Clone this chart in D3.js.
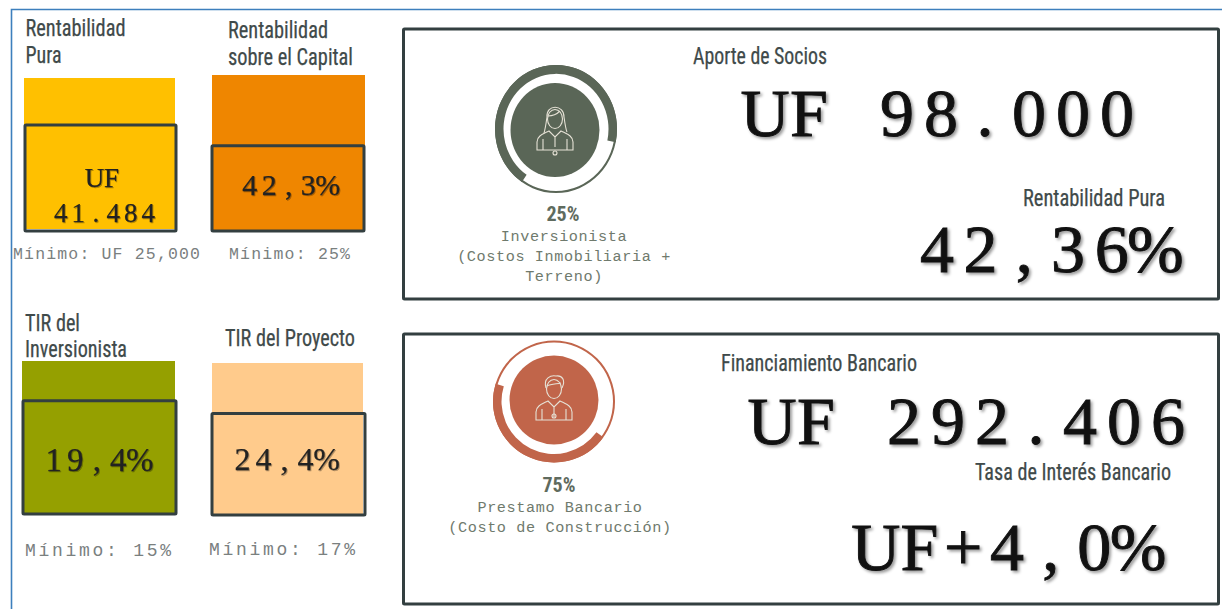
<!DOCTYPE html>
<html><head><meta charset="utf-8">
<script src="https://cdn.jsdelivr.net/npm/d3@7"></script>
<style>
html,body{margin:0;padding:0;background:#fff;overflow:hidden}
text{white-space:pre}
.narrow{font-family:"Liberation Sans Narrow","Roboto Condensed","Liberation Sans",sans-serif;fill:#3f4a4a;stroke:#3f4a4a;stroke-width:.25}
.mono{font-family:"Liberation Mono",monospace}
.cell{font-family:"Liberation Serif",serif}
.big{fill:#111;stroke:#111;stroke-width:.9;filter:drop-shadow(2px 2px 1.5px rgba(0,0,0,.4))}
.lab{fill:#222;stroke:#222;stroke-width:.25;filter:drop-shadow(1px 1px .7px rgba(0,0,0,.3))}
</style></head><body><svg id="c" width="1222" height="609"></svg>
<script>
// ---- data
const kpiTitles = [["Rentabilidad","Pura"],["Rentabilidad","sobre el Capital"],["TIR del","Inversionista"],["TIR del Proyecto"]];
const kpiValues = [41484, 42.3, 19.4, 24.4];
const kpiLevels = [28570, 23.1, 14.35, 16.3];
const kpiLabels = [["UF","41.484"],["42,3%"],["19,4%"],["24,4%"]];
const kpiMinimums = ["Mínimo: UF 25,000","Mínimo: 25%","Mínimo: 15%","Mínimo: 17%"];
const kpiColors = ["#ffc000","#ef8600","#95a000","#ffcb8c"];
const shareLabels = ["25%","75%"];
const shareNames = [["Inversionista","(Costos Inmobiliaria +","Terreno)"],["Prestamo Bancario","(Costo de Construcción)"]];
const shareArcDegrees = [[214,462],[126,287]];
const shareColors = ["#5a6657","#c1654a"];
const panelHeads = ["Aporte de Socios","Financiamiento Bancario"];
const panelAmounts = ["UF 98.000","UF 292.406"];
const panelSubHeads = ["Rentabilidad Pura","Tasa de Interés Bancario"];
const panelSubValues = ["42,36%","UF+4,0%"];

// ---- layout
const cards = [
 {x:24,y0:78,w:151,bottom:229,bx:25,bw:151,bb:231,tx:25.5,ty:[36,63],tw:[100,36],lx:[86,52],ly:[187,222],adv:[17,17.5],fs:[27,27],mx:13,my:259,mw:187,mf:16.5},
 {x:212,y0:75,w:153,bottom:231,bx:212,bw:152,bb:231,tx:228,ty:[38,65],tw:[100,125],lx:[240],ly:[195],adv:[19.5],fs:[30],mx:229,my:259,mw:121,mf:16.5},
 {x:22,y0:361,w:153,bottom:514,bx:23,bw:153,bb:514,tx:25,ty:[331,357],tw:[55,102],lx:[43],ly:[470.5],adv:[21.5],fs:[33],mx:25,my:556,mw:146,mf:18},
 {x:212,y0:363,w:151,bottom:515,bx:212,bw:153,bb:515,tx:225,ty:[346],tw:[130],lx:[232],ly:[470],adv:[21],fs:[32],mx:209,my:555,mw:146,mf:18}
];
const panels = [
 {y:29,h:270,cx:556,cy:129,ry:1.05,icx:555,icy:130,headX:693,headY:64,headW:134,amtX:743,amtY:136,subX:1023,subY:206,subW:142,valX:915,valY:272,pctY:221,nameY:[241,261,281],nameX:564},
 {y:334,h:270,cx:554,cy:401.5,ry:1,icx:554,icy:400,headX:721,headY:371,headW:196,amtX:750,amtY:444,subX:975,subY:480,subW:196,valX:854,valY:570,pctY:492,nameY:[512,532],nameX:560}
];
const svg = d3.select("#c");
const ink = "#333f40";

// text set in equal cells: every character centred in its own slot
function cellText(g,t,x,y,adv,size,cls){
  const xs = Array.from(t,(ch,k)=>(x+(k+.5)*adv).toFixed(1)).join(" ");
  return g.append("text").attr("class","cell "+cls).attr("x",xs).attr("y",y)
    .attr("text-anchor","middle").attr("font-size",size).text(t);
}

// outer frame
const frame = d3.path(); frame.moveTo(11.5,609); frame.lineTo(11.5,9.5); frame.lineTo(1222,9.5);
svg.append("path").attr("d",frame.toString()).attr("fill","none").attr("stroke","#3d7fbd").attr("stroke-width",1.6);

// KPI cards
cards.forEach((c,i)=>{
  const y = d3.scaleLinear().domain([0,kpiValues[i]]).range([c.bottom,c.y0]);
  const g = svg.append("g");
  g.append("rect").attr("x",c.x).attr("y",y(kpiValues[i])).attr("width",c.w).attr("height",y(0)-y(kpiValues[i])).attr("fill",kpiColors[i]);
  const top = y(kpiLevels[i]);
  g.append("rect").attr("x",c.bx).attr("y",top).attr("width",c.bw).attr("height",c.bb-top)
    .attr("fill","none").attr("stroke",ink).attr("stroke-width",3).attr("rx",1);
  kpiTitles[i].forEach((t,j)=>g.append("text").attr("class","narrow").attr("x",c.tx).attr("y",c.ty[j])
    .attr("font-size",24).attr("textLength",c.tw[j]).attr("lengthAdjust","spacingAndGlyphs").text(t));
  kpiLabels[i].forEach((t,j)=>cellText(g,t,c.lx[j],c.ly[j],c.adv[j],c.fs[j],"lab"));
  g.append("text").attr("class","mono").attr("x",c.mx).attr("y",c.my).attr("font-size",c.mf).attr("fill","#7a807f")
    .attr("textLength",c.mw).text(kpiMinimums[i]);
});

// person icon
function person(g,cx,cy,female,col){
  const s=g.append("g").attr("transform",`translate(${cx},${cy})`).attr("fill","none").attr("stroke",col).attr("stroke-width",1.1);
  s.append("ellipse").attr("cx",0).attr("cy",-11).attr("rx",7.5).attr("ry",9.5);
  if(female){
    s.append("path").attr("d","M-8,-13C-9,-26 9,-26 9,-13C10,-6 11,0 12,2M-8,-13C-9,-6 -10,0 -11,3M-7,-14C-2,-14 3,-17 5,-19");
  } else {
    s.append("path").attr("d","M-8,-12C-11,-22 -3,-25 2,-24C8,-25 12,-20 8,-12M-7,-14C-3,-16 3,-16 7,-17");
  }
  s.append("path").attr("d","M-18,20V12C-18,6 -12,4 -6,1L0,7L6,1C12,4 18,6 18,12V20ZM-12,9V20M12,9V20M0,7V17");
  s.append("circle").attr("cx",0).attr("cy",female?23:16).attr("r",2);
}

// share panels
const thin = d3.arc().innerRadius(59).outerRadius(61).startAngle(0).endAngle(2*Math.PI);
const thick = d3.arc().innerRadius(52.5).outerRadius(61);
const rad = d3.scaleLinear().domain([0,180]).range([0,Math.PI]);
panels.forEach((p,i)=>{
  const g = svg.append("g");
  g.append("rect").attr("x",403.5).attr("y",p.y).attr("width",815).attr("height",p.h).attr("fill","#fff").attr("stroke",ink).attr("stroke-width",3).attr("rx",1);
  const d = g.append("g").attr("transform",`translate(${p.cx},${p.cy}) scale(1,${p.ry})`);
  d.append("path").attr("d",thin()).attr("fill",shareColors[i]);
  d.append("path").attr("d",thick({startAngle:rad(shareArcDegrees[i][0]),endAngle:rad(shareArcDegrees[i][1])})).attr("fill",shareColors[i]);
  g.append("ellipse").attr("cx",p.icx).attr("cy",p.icy).attr("rx",44.5).attr("ry",i==0?47:44.5).attr("fill",shareColors[i]);
  person(g,p.icx,p.icy,i==0,"#e6e2d6");
  g.append("text").attr("class","narrow").attr("x",p.nameX-1).attr("y",p.pctY).attr("text-anchor","middle")
    .attr("font-size",20).attr("font-weight",700).attr("style","fill:#5f6b5e;stroke:none").text(shareLabels[i]);
  shareNames[i].forEach((t,j)=>g.append("text").attr("class","mono").attr("x",p.nameX).attr("y",p.nameY[j]).attr("text-anchor","middle")
    .attr("font-size",15.2).attr("letter-spacing",.6).attr("fill","#6f7a6d").text(t));
  const narrow=(t,x,y,w)=>g.append("text").attr("class","narrow").attr("x",x).attr("y",y).attr("font-size",23)
    .attr("textLength",w).attr("lengthAdjust","spacingAndGlyphs").text(t);
  narrow(panelHeads[i],p.headX,p.headY,p.headW);
  narrow(panelSubHeads[i],p.subX,p.subY,p.subW);
  cellText(g,panelAmounts[i],p.amtX,p.amtY,44,68,"big");
  cellText(g,panelSubValues[i],p.valX,p.valY,43.7,68,"big");
});
</script></body></html>
